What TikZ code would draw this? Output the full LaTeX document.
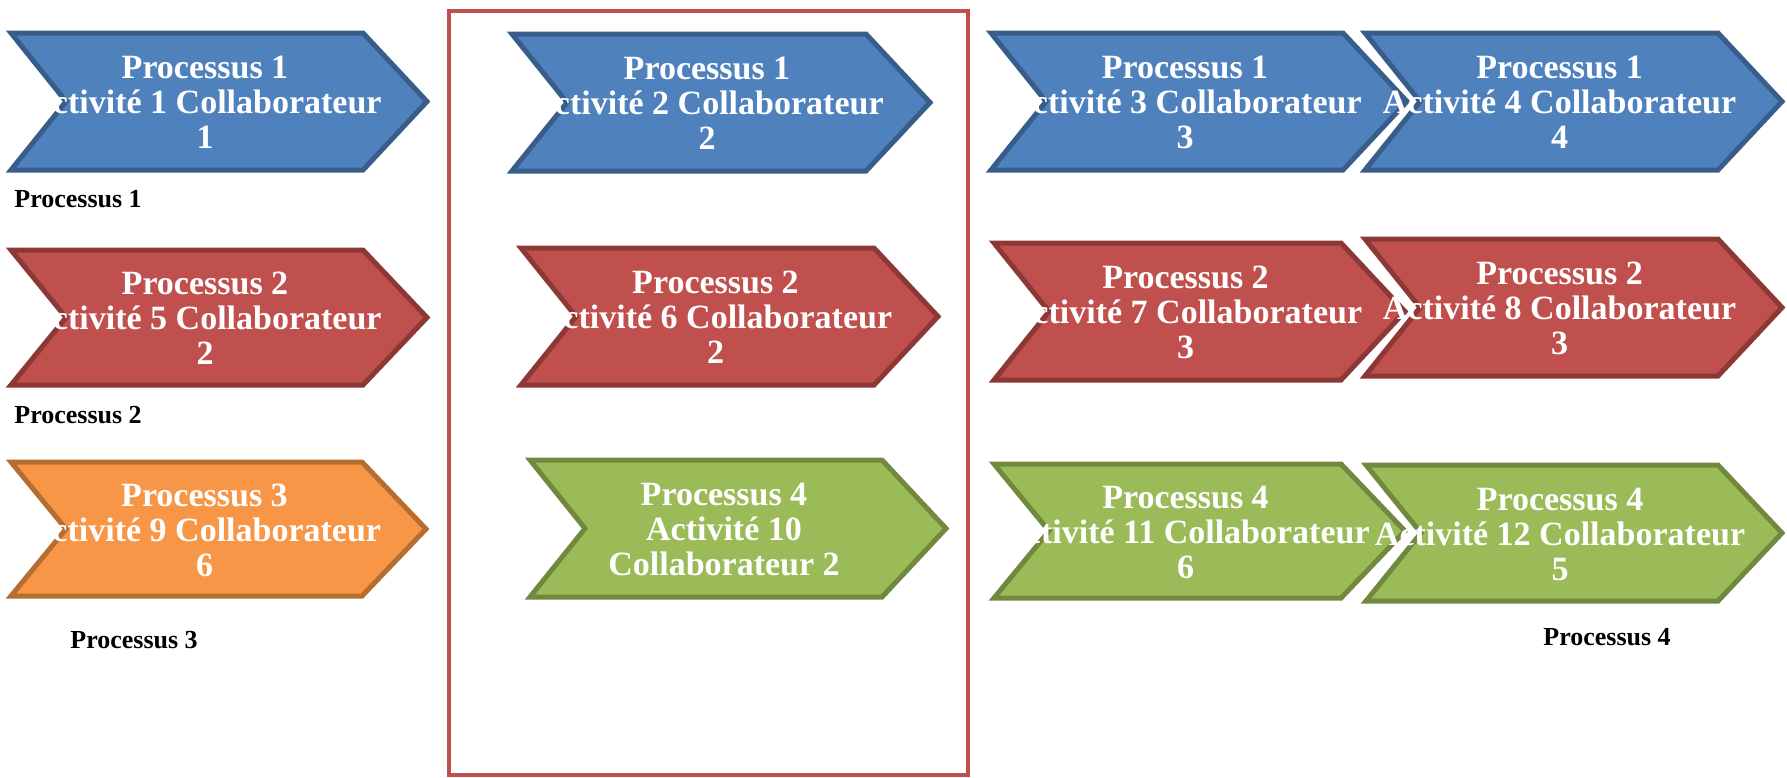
\documentclass[tikz,border=0pt]{standalone}
\usepackage{fontspec}
\setmainfont{Liberation Serif}
\definecolor{bluefill}{HTML}{4F81BD}
\definecolor{blueline}{HTML}{385D8A}
\definecolor{redfill}{HTML}{C0504D}
\definecolor{redline}{HTML}{8C3836}
\definecolor{orangefill}{HTML}{F79646}
\definecolor{orangeline}{HTML}{B66D31}
\definecolor{greenfill}{HTML}{9BBB59}
\definecolor{greenline}{HTML}{71893F}
\definecolor{framered}{HTML}{C0504D}
\newcommand\chev[5]{% style, left, top, bottom, tip
  \draw[#1] (#2,#3) -- ({#5-64},#3) -- (#5,{(#3+#4)/2}) -- ({#5-64},#4) -- (#2,#4) -- ({#2+55},{(#3+#4)/2}) -- cycle;}
\newcommand\chevtext[6]{% name, left, top, bottom, tip, text
  \node[chevtxt] (#1) at ({(#2+#5)/2-14},{(#3+#4)/2+1}) {#6};}
\tikzset{
  chevbase/.style={line width=2.5pt, line join=miter},
  chevblue/.style={chevbase, fill=bluefill, draw=blueline},
  chevred/.style={chevbase, fill=redfill, draw=redline},
  chevorange/.style={chevbase, fill=orangefill, draw=orangeline},
  chevgreen/.style={chevbase, fill=greenfill, draw=greenline},
  chevtxt/.style={text=white, align=center, inner sep=0pt,
    font=\fontsize{17}{17.5}\selectfont\bfseries},
  proclabel/.style={anchor=west, inner sep=0pt, text=black,
    font=\fontsize{13}{14}\selectfont\bfseries},
  framebox/.style={draw=framered, line width=2pt}
}
\begin{document}
\begin{tikzpicture}[x=0.5pt,y=-0.5pt]
\useasboundingbox (0,0) rectangle (1787,777);
% frame
\draw[framebox] (449,11) rectangle (968,775);
% shapes
\chev{chevblue}{11}{33}{170}{427}
\chev{chevblue}{512}{34}{171}{930}
\chev{chevblue}{991}{33}{170}{1407}
\chev{chevblue}{1365}{33}{170}{1782}
\chev{chevred}{11}{250}{385}{427}
\chev{chevred}{521}{248}{385}{938}
\chev{chevred}{994}{243}{380}{1405}
\chev{chevred}{1365}{239}{376}{1782}
\chev{chevorange}{11}{462}{596}{426}
\chev{chevgreen}{530}{460}{597}{946}
\chev{chevgreen}{994}{464}{598}{1405}
\chev{chevgreen}{1366}{465}{601}{1782}
% texts
\chevtext{c1}{11}{33}{170}{427}{Processus 1\\Activité 1 Collaborateur\\1}
\chevtext{c2}{512}{34}{171}{930}{Processus 1\\Activité 2 Collaborateur\\2}
\chevtext{c3}{991}{33}{170}{1407}{Processus 1\\Activité 3 Collaborateur\\3}
\chevtext{c4}{1365}{33}{170}{1782}{Processus 1\\Activité 4 Collaborateur\\4}
\chevtext{c5}{11}{250}{385}{427}{Processus 2\\Activité 5 Collaborateur\\2}
\chevtext{c6}{521}{248}{385}{938}{Processus 2\\Activité 6 Collaborateur\\2}
\chevtext{c7}{994}{243}{380}{1405}{Processus 2\\Activité 7 Collaborateur\\3}
\chevtext{c8}{1365}{239}{376}{1782}{Processus 2\\Activité 8 Collaborateur\\3}
\chevtext{c9}{11}{462}{596}{426}{Processus 3\\Activité 9 Collaborateur\\6}
\chevtext{c10}{530}{460}{597}{946}{Processus 4\\Activité 10\\Collaborateur 2}
\chevtext{c11}{994}{464}{598}{1405}{Processus 4\\Activité 11 Collaborateur\\6}
\chevtext{c12}{1366}{465}{601}{1782}{Processus 4\\Activité 12 Collaborateur\\5}
% labels
\node[proclabel] (l1) at (14,199) {Processus 1};
\node[proclabel] (l2) at (14,415) {Processus 2};
\node[proclabel] (l3) at (70,640) {Processus 3};
\node[proclabel] (l4) at (1543,637) {Processus 4};
\end{tikzpicture}
\end{document}
